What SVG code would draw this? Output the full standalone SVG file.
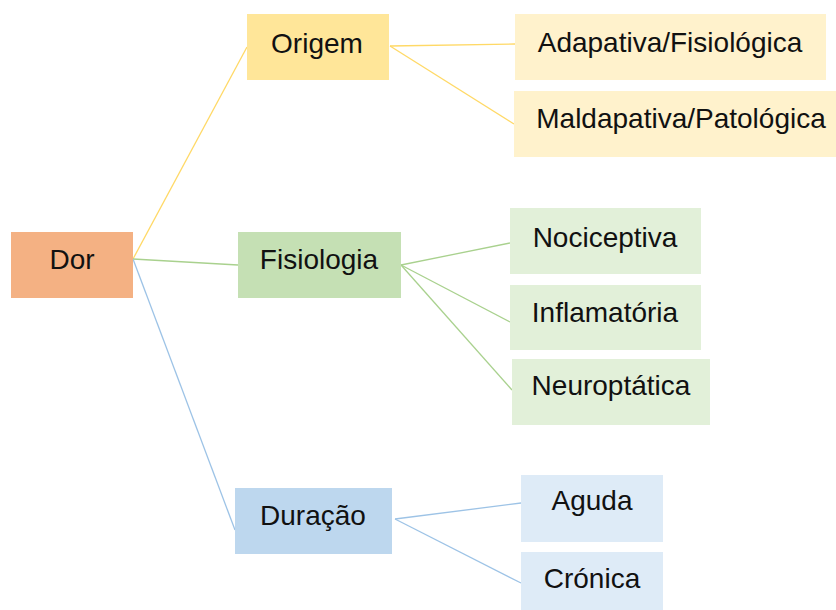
<svg xmlns="http://www.w3.org/2000/svg" width="836" height="610" viewBox="0 0 836 610">
<style>
text{font-family:"Liberation Sans",Arial,sans-serif;font-size:28px;fill:#111;text-anchor:middle}
.ly{stroke:#FFD966;stroke-width:1.3;fill:none}
.lg{stroke:#A9D18E;stroke-width:1.3;fill:none}
.lb{stroke:#9DC3E6;stroke-width:1.3;fill:none}
</style>
<rect width="836" height="610" fill="#fff"/>
<g id="connectors">
<line class="ly" x1="133" y1="259" x2="247" y2="47"/>
<line class="lg" x1="133" y1="259" x2="238" y2="265"/>
<line class="lb" x1="133" y1="259" x2="235" y2="530"/>
<line class="ly" x1="390" y1="46" x2="515" y2="44"/>
<line class="ly" x1="390" y1="46" x2="514" y2="124"/>
<line class="lg" x1="401" y1="265" x2="510" y2="243"/>
<line class="lg" x1="401" y1="265" x2="510" y2="322"/>
<line class="lg" x1="401" y1="265" x2="512" y2="390"/>
<line class="lb" x1="395" y1="519" x2="521" y2="503"/>
<line class="lb" x1="395" y1="519" x2="521" y2="583"/>
</g>
<g id="dor"><rect x="11" y="232" width="122" height="66" fill="#F4B183"/><text x="72" y="269">Dor</text></g>
<g id="origem"><rect x="247" y="14" width="142" height="66" fill="#FFE699"/><text x="317" y="53">Origem</text></g>
<g id="adaptativa"><rect x="515" y="14" width="311" height="66" fill="#FFF2CC"/><text x="670" y="52">Adapativa/Fisiológica</text></g>
<g id="maladaptativa"><rect x="514" y="91" width="322" height="66" fill="#FFF2CC"/><text x="681" y="128">Maldapativa/Patológica</text></g>
<g id="fisiologia"><rect x="238" y="232" width="163" height="66" fill="#C5E0B4"/><text x="319" y="269">Fisiologia</text></g>
<g id="nociceptiva"><rect x="510" y="208" width="191" height="66" fill="#E2F0D9"/><text x="605" y="247">Nociceptiva</text></g>
<g id="inflamatoria"><rect x="510" y="285" width="191" height="65" fill="#E2F0D9"/><text x="605" y="322">Inflamatória</text></g>
<g id="neuroptatica"><rect x="512" y="359" width="198" height="66" fill="#E2F0D9"/><text x="611" y="395">Neuroptática</text></g>
<g id="duracao"><rect x="235" y="488" width="157" height="66" fill="#BDD7EE"/><text x="313" y="525">Duração</text></g>
<g id="aguda"><rect x="521" y="475" width="142" height="67" fill="#DEEBF7"/><text x="592" y="510">Aguda</text></g>
<g id="cronica"><rect x="521" y="552" width="142" height="58" fill="#DEEBF7"/><text x="592" y="588">Crónica</text></g>
</svg>
